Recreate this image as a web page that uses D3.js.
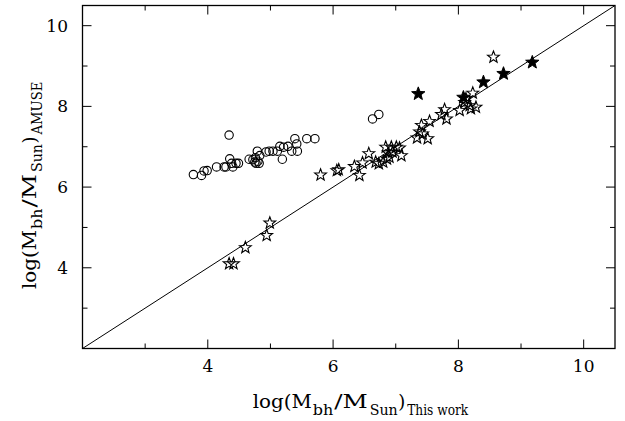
<!DOCTYPE html>
<html>
<head>
<meta charset="utf-8">
<script src="https://cdn.jsdelivr.net/npm/d3@7"></script>
<style>
  html, body { margin: 0; padding: 0; background: #fff; }
  svg { display: block; }
  text { font-family: "DejaVu Serif", "Liberation Serif", serif; fill: #000; }
</style>
</head>
<body>
<svg id="chart" width="625" height="421"></svg>
<script>
// Black-hole mass estimates: this work (x) versus AMUSE (y), both log(M/Msun)

// Open circles
const circleX = [3.77, 3.90, 3.94, 3.99, 4.14, 4.26, 4.29, 4.34, 4.35, 4.38, 4.40, 4.45, 4.49,
                 4.66, 4.72, 4.75, 4.76, 4.77, 4.79, 4.80, 4.82, 4.83, 4.93, 4.98, 5.04, 5.11,
                 5.15, 5.19, 5.21, 5.28, 5.34, 5.39, 5.42, 5.43, 5.58, 5.71, 6.63, 6.73];
const circleY = [6.31, 6.29, 6.40, 6.41, 6.50, 6.50, 6.50, 7.29, 6.70, 6.59, 6.50, 6.59, 6.59,
                 6.69, 6.68, 6.62, 6.73, 6.59, 6.89, 6.64, 6.59, 6.78, 6.87, 6.89, 6.89, 6.89,
                 7.01, 6.69, 6.99, 7.01, 6.89, 7.20, 7.07, 6.89, 7.20, 7.20, 7.69, 7.80];

// Open stars
const openStarX = [4.34, 4.41, 4.60, 4.94, 4.99, 5.80, 6.06, 6.09, 6.34, 6.42, 6.47, 6.57,
                   6.68, 6.73, 6.80, 6.84, 6.93, 7.01, 6.88, 6.90, 6.95, 6.86, 7.09, 7.06,
                   7.34, 7.38, 7.41, 7.43, 7.51, 7.54, 7.73, 7.78, 7.81, 8.02, 8.10, 8.12,
                   8.18, 8.20, 8.28, 8.23, 8.56];
const openStarY = [4.10, 4.10, 4.50, 4.80, 5.11, 6.30, 6.41, 6.43, 6.51, 6.29, 6.60, 6.83,
                   6.62, 6.58, 6.62, 6.99, 6.99, 6.99, 6.85, 6.74, 6.87, 6.70, 6.78, 6.97,
                   7.22, 7.37, 7.53, 7.32, 7.20, 7.63, 7.80, 7.92, 7.69, 7.90, 8.10, 8.19,
                   8.02, 7.94, 7.98, 8.33, 9.22];

// Filled stars
const filledStarX = [7.36, 8.08, 8.40, 8.72, 9.18];
const filledStarY = [8.31, 8.22, 8.60, 8.81, 9.09];

// Axis settings
const domainMin = 2, domainMax = 10.5;
const majorTicks = [4, 6, 8, 10];
const minorTicks = [3, 5, 7, 9];
const diagonal = [2, 10.5];

const svg = d3.select("#chart");
const plotLeft = 82.5, plotRight = 615, plotTop = 5.5, plotBottom = 348.5;

const x = d3.scaleLinear().domain([domainMin, domainMax]).range([plotLeft, plotRight]);
const y = d3.scaleLinear().domain([domainMin, domainMax]).range([plotBottom, plotTop]);

const plot = svg.append("g");

// One-to-one line
plot.append("line")
  .attr("x1", x(diagonal[0])).attr("y1", y(diagonal[0]))
  .attr("x2", x(diagonal[1])).attr("y2", y(diagonal[1]))
  .attr("stroke", "#000").attr("stroke-width", 1);

// Star outline path
function starPath(R) {
  const r = R * 0.42;
  const pts = d3.range(10).map(i => [i * Math.PI / 5, i % 2 === 0 ? R : r]);
  return d3.lineRadial().curve(d3.curveLinearClosed)(pts);
}

const circles = circleX.map((v, i) => ({ x: v, y: circleY[i] }));
const openStars = openStarX.map((v, i) => ({ x: v, y: openStarY[i] }));
const filledStars = filledStarX.map((v, i) => ({ x: v, y: filledStarY[i] }));

plot.selectAll("circle.pt").data(circles).join("circle")
  .attr("class", "pt")
  .attr("cx", d => x(d.x)).attr("cy", d => y(d.y)).attr("r", 4.2)
  .attr("fill", "none").attr("stroke", "#000").attr("stroke-width", 1.1);

plot.selectAll("path.open").data(openStars).join("path")
  .attr("class", "open")
  .attr("d", starPath(6.2))
  .attr("transform", d => `translate(${x(d.x)},${y(d.y)})`)
  .attr("fill", "none").attr("stroke", "#000").attr("stroke-width", 1.1)
  .attr("stroke-linejoin", "miter");

plot.selectAll("path.filled").data(filledStars).join("path")
  .attr("class", "filled")
  .attr("d", starPath(7))
  .attr("transform", d => `translate(${x(d.x)},${y(d.y)})`)
  .attr("fill", "#000").attr("stroke", "#000").attr("stroke-width", 1);

// Frame
svg.append("rect")
  .attr("x", plotLeft).attr("y", plotTop)
  .attr("width", plotRight - plotLeft).attr("height", plotBottom - plotTop)
  .attr("fill", "none").attr("stroke", "#000").attr("stroke-width", 1.3);

// Inward ticks on all four sides
const majorLen = 9, minorLen = 5;
function ticksOn(g, scale, values, len, side) {
  const horiz = side === "bottom" || side === "top";
  g.selectAll(null).data(values).join("line")
    .attr("x1", d => horiz ? scale(d) : (side === "left" ? plotLeft : plotRight))
    .attr("x2", d => horiz ? scale(d) : (side === "left" ? plotLeft + len : plotRight - len))
    .attr("y1", d => !horiz ? scale(d) : (side === "bottom" ? plotBottom : plotTop))
    .attr("y2", d => !horiz ? scale(d) : (side === "bottom" ? plotBottom - len : plotTop + len))
    .attr("stroke", "#000").attr("stroke-width", 1);
}
const tg = svg.append("g");
["bottom", "top"].forEach(s => { ticksOn(tg, x, majorTicks, majorLen, s); ticksOn(tg, x, minorTicks, minorLen, s); });
["left", "right"].forEach(s => { ticksOn(tg, y, majorTicks, majorLen, s); ticksOn(tg, y, minorTicks, minorLen, s); });

// Tick labels
svg.append("g").selectAll("text").data(majorTicks).join("text")
  .attr("x", d => x(d)).attr("y", 372)
  .attr("text-anchor", "middle").attr("font-size", 17)
  .text(d => d);
svg.append("g").selectAll("text").data(majorTicks).join("text")
  .attr("x", 68).attr("y", d => y(d) + 6)
  .attr("text-anchor", "end").attr("font-size", 17)
  .text(d => d);

// Axis titles: main text and subscripts laid out piece by piece
function titleSegments(sub, subLen) {
  return [
    { t: "log(M", a: 0,     b: 59,    s: false },
    { t: "bh",    a: 60,    b: 80.5,  s: true },
    { t: "/M",    a: 81.5,  b: 115,   s: false },
    { t: "Sun",   a: 117,   b: 145,   s: true },
    { t: ")",     a: 145.5, b: null,  s: false },
    { t: sub,     a: 154.5, b: 154.5 + subLen, s: true }
  ];
}
function drawTitle(g, segs, ox, baseline) {
  segs.forEach(seg => {
    const t = g.append("text")
      .attr("x", ox + seg.a)
      .attr("y", baseline + (seg.s ? 6.5 : 0))
      .attr("font-size", seg.s ? 14 : 18)
      .text(seg.t);
    if (seg.b !== null && seg.t.length > 1) {
      t.attr("textLength", seg.b - seg.a).attr("lengthAdjust", "spacingAndGlyphs");
    }
  });
}
drawTitle(svg.append("g"), titleSegments("This work", 61), 252.7, 408);
// y title: rotated so it reads bottom to top
drawTitle(svg.append("g").attr("transform", "rotate(-90)"),
          titleSegments("AMUSE", 53), -289, 35.5);
</script>
</body>
</html>
